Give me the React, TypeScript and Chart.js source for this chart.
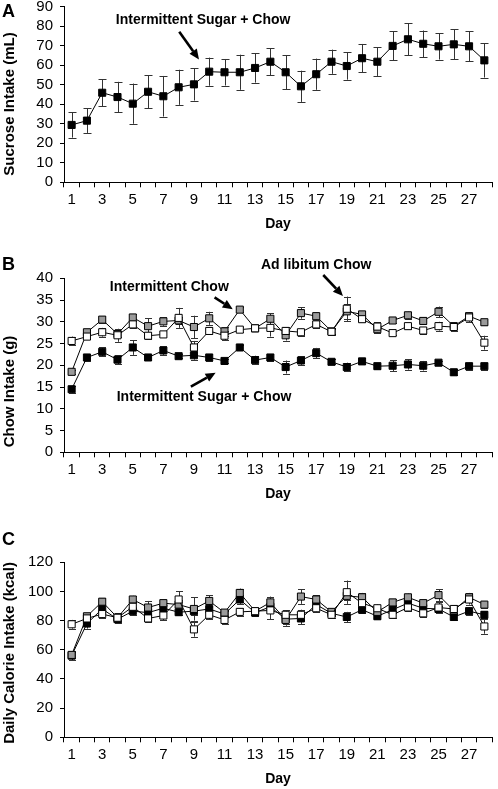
import React, { useEffect, useRef } from "react";
import { Chart, registerables } from "chart.js";

Chart.register(...registerables);

// ---------- data ----------
const days = ["1", "2", "3", "4", "5", "6", "7", "8", "9", "10", "11", "12", "13", "14", "15", "16", "17", "18", "19", "20", "21", "22", "23", "24", "25", "26", "27", "28"];

// Panel A: sucrose intake (mL), intermittent sugar + chow
const sucrose = [29.4, 31.6, 45.9, 43.7, 40.3, 46.4, 44.1, 48.7, 50.2, 56.7, 56.4, 56.4, 58.6, 61.8, 56.4, 49.2, 55.4, 61.8, 59.6, 63.6, 61.8, 69.9, 73.3, 71.0, 69.7, 70.7, 69.7, 62.5];
const sucroseErr = [6.5, 6.3, 7.0, 7.8, 10.3, 8.5, 10.4, 9.0, 8.3, 7.2, 6.8, 9.0, 7.5, 6.8, 8.6, 8.0, 8.0, 6.2, 7.0, 7.3, 7.3, 7.4, 8.2, 6.8, 6.8, 7.7, 7.6, 8.8];

// Panel B: chow intake (g)
const chowSugar = [14.5, 21.8, 23.1, 21.3, 24.1, 21.8, 23.4, 22.1, 22.3, 21.8, 21.0, 24.1, 21.2, 21.8, 19.6, 21.1, 22.8, 20.8, 19.6, 20.9, 19.8, 19.9, 20.2, 19.9, 20.6, 18.4, 19.8, 19.8];
const chowSugarErr = [0.8, 0.8, 1.0, 1.0, 1.7, 0.6, 1.0, 0.5, 1.0, 0.7, 0.5, 0.5, 1.0, 0.7, 1.5, 1.0, 1.2, 0.6, 1.0, 0.7, 0.6, 1.3, 1.2, 1.1, 0.5, 0.7, 0.8, 0.8];
const chowInt = [18.5, 27.6, 30.5, 27.2, 31.0, 29.0, 30.1, 30.3, 28.8, 30.8, 27.8, 32.8, 28.5, 30.7, 26.9, 32.0, 31.3, 27.8, 32.4, 31.7, 28.3, 30.3, 31.5, 30.2, 32.3, 29.0, 31.3, 29.9];
const chowIntErr = [0.5, 0.5, 0.8, 0.8, 0.8, 1.8, 1.0, 0.8, 2.6, 1.5, 1.0, 0.6, 0.6, 1.3, 1.2, 1.3, 0.8, 0.6, 1.8, 0.7, 0.8, 0.6, 0.8, 0.8, 1.2, 0.7, 0.8, 0.6];
const chowAdlib = [25.6, 26.6, 27.6, 26.9, 29.4, 26.8, 27.1, 30.9, 24.1, 27.9, 26.8, 28.2, 28.5, 28.6, 27.9, 27.6, 29.4, 27.7, 33.0, 30.6, 28.9, 27.4, 29.0, 28.0, 29.0, 28.8, 31.0, 25.2];
const chowAdlibErr = [1.0, 0.5, 1.0, 1.5, 0.8, 0.8, 0.5, 2.3, 1.5, 0.8, 1.0, 0.6, 0.6, 2.0, 0.8, 0.8, 0.8, 0.8, 2.8, 0.6, 1.0, 0.5, 0.6, 0.8, 1.0, 1.0, 1.0, 1.6];

// Panel C: daily calorie intake (kcal)
const calSugar = [56.0, 78.0, 88.0, 81.0, 86.5, 85.5, 88.5, 85.8, 86.5, 88.0, 84.5, 94.5, 85.5, 89.5, 81.0, 81.5, 91.0, 85.0, 82.5, 87.5, 83.0, 87.5, 92.0, 88.5, 88.0, 82.5, 86.5, 84.0];
const calSugarErr = [3, 3.5, 2.5, 2.5, 2.5, 2, 2, 2, 2.5, 2, 2, 3, 2, 2, 3.5, 4, 3, 2, 3.5, 2, 2, 2.5, 2.5, 2.5, 2, 2, 2.5, 2.5];
const calInt = [56.5, 83.0, 93.0, 82.0, 94.5, 89.0, 92.0, 91.0, 88.0, 93.5, 85.5, 99.0, 86.5, 92.5, 80.5, 96.5, 94.5, 86.0, 97.0, 96.0, 86.0, 92.5, 96.0, 92.0, 97.5, 87.0, 96.0, 91.0];
const calIntErr = [2, 2, 2.5, 2.5, 2.5, 4.5, 2, 3, 8, 4, 2, 3, 2, 4, 4, 5, 3, 2, 3, 3, 2.5, 2, 2.5, 2, 4, 2, 3, 2];
const calAdlib = [77.5, 81.5, 84.5, 82.0, 89.5, 81.5, 83.5, 94.5, 74.0, 84.0, 80.5, 86.0, 86.5, 87.0, 84.0, 84.0, 88.5, 84.0, 99.5, 92.0, 88.5, 84.0, 89.0, 85.0, 89.0, 88.0, 94.5, 76.0];
const calAdlibErr = [3, 3, 3, 3, 3, 2.5, 3, 5.5, 5, 3, 2.5, 2.5, 2.5, 6, 3, 3.5, 2.5, 2.5, 8, 3, 2.5, 2.5, 2.5, 2.5, 3.5, 2.5, 3.5, 5];

const groupSugar = "Intermittent Sugar + Chow";
const groupInt = "Intermittent Chow";
const groupAdlib = "Ad libitum Chow";

// ---------- styling / layout ----------
const FONT = "'Liberation Sans', Arial, Helvetica, sans-serif";
const PAGE_W = 498;
const PLOT_LEFT = 64;
const PLOT_RIGHT = 495;

type Series = { label: string; data: number[]; err: number[]; fill: string };
// annotation coordinates are in data space: [day index (0 = day 1), value]
type Ann = { text: string; at: [number, number]; from: [number, number]; to: [number, number] };
type Panel = {
  letter: string;
  yTitle: string;
  yMin: number;
  yMax: number;
  yStep: number;
  series: Series[];
  anns: Ann[];
  top: number;
  height: number;
  chartTop: number;
  chartBottom: number;
  yTitleCenter: number;
  letterBaseline: number;
  cap: number;
};

const panels: Panel[] = [
  {
    letter: "A",
    yTitle: "Sucrose Intake (mL)",
    yMin: 0, yMax: 90, yStep: 10,
    series: [{ label: groupSugar, data: sucrose, err: sucroseErr, fill: "#000000" }],
    anns: [{ text: groupSugar, at: [8.6, 82.9], from: [7.04, 77.2], to: [8.33, 63.0] }],
    top: -20, height: 270, chartTop: 6.7, chartBottom: 182.3,
    yTitleCenter: 104, letterBaseline: 17, cap: 4,
  },
  {
    letter: "B",
    yTitle: "Chow Intake (g)",
    yMin: 0, yMax: 40, yStep: 5,
    series: [
      { label: groupAdlib, data: chowAdlib, err: chowAdlibErr, fill: "#ffffff" },
      { label: groupInt, data: chowInt, err: chowIntErr, fill: "#9a9a9a" },
      { label: groupSugar, data: chowSugar, err: chowSugarErr, fill: "#000000" },
    ],
    anns: [
      { text: groupInt, at: [6.39, 38.07], from: [9.35, 35.6], to: [10.54, 32.9] },
      { text: groupAdlib, at: [16.0, 43.1], from: [16.46, 40.76], to: [17.75, 35.93] },
      { text: groupSugar, at: [8.66, 12.6], from: [7.8, 15.08], to: [9.42, 18.3] },
    ],
    top: 250, height: 270, chartTop: 278.3, chartBottom: 452.3,
    yTitleCenter: 391.5, letterBaseline: 270, cap: 3.5,
  },
  {
    letter: "C",
    yTitle: "Daily Calorie Intake (kcal)",
    yMin: 0, yMax: 120, yStep: 20,
    series: [
      { label: groupAdlib, data: calAdlib, err: calAdlibErr, fill: "#ffffff" },
      { label: groupInt, data: calInt, err: calIntErr, fill: "#9a9a9a" },
      { label: groupSugar, data: calSugar, err: calSugarErr, fill: "#000000" },
    ],
    anns: [],
    top: 520, height: 269, chartTop: 562.3, chartBottom: 737.3,
    yTitleCenter: 653, letterBaseline: 545, cap: 3.5,
  },
];

function drawArrow(ctx: CanvasRenderingContext2D, x1: number, y1: number, x2: number, y2: number) {
  const ang = Math.atan2(y2 - y1, x2 - x1);
  const headLen = 10;
  const headHalf = 4.5;
  const bx = x2 - headLen * Math.cos(ang);
  const by = y2 - headLen * Math.sin(ang);
  ctx.save();
  ctx.strokeStyle = "#000";
  ctx.fillStyle = "#000";
  ctx.lineWidth = 2.6;
  ctx.beginPath();
  ctx.moveTo(x1, y1);
  ctx.lineTo(bx, by);
  ctx.stroke();
  ctx.beginPath();
  ctx.moveTo(x2, y2);
  ctx.lineTo(bx + headHalf * Math.sin(ang), by - headHalf * Math.cos(ang));
  ctx.lineTo(bx - headHalf * Math.sin(ang), by + headHalf * Math.cos(ang));
  ctx.closePath();
  ctx.fill();
  ctx.restore();
}

function PanelChart({ p }: { p: Panel }) {
  const ref = useRef<HTMLCanvasElement | null>(null);
  useEffect(() => {
    if (!ref.current) return;
    const plugin = {
      id: "panelExtras",
      beforeDatasetsDraw(chart: any) {
        const ctx: CanvasRenderingContext2D = chart.ctx;
        const ys = chart.scales.y;
        ctx.save();
        ctx.strokeStyle = "#333";
        ctx.lineWidth = 1;
        chart.data.datasets.forEach((ds: any, di: number) => {
          const meta = chart.getDatasetMeta(di);
          ds.data.forEach((v: number, i: number) => {
            const e = ds.errors[i];
            const pt = meta.data[i];
            const x = Math.round(pt.x) + 0.5;
            const yt = ys.getPixelForValue(v + e);
            const yb = ys.getPixelForValue(v - e);
            ctx.beginPath();
            ctx.moveTo(x, yt);
            ctx.lineTo(x, yb);
            ctx.moveTo(x - p.cap, Math.round(yt) + 0.5);
            ctx.lineTo(x + p.cap, Math.round(yt) + 0.5);
            ctx.moveTo(x - p.cap, Math.round(yb) + 0.5);
            ctx.lineTo(x + p.cap, Math.round(yb) + 0.5);
            ctx.stroke();
          });
        });
        ctx.restore();
      },
      afterDraw(chart: any) {
        const ctx: CanvasRenderingContext2D = chart.ctx;
        const xs = chart.scales.x;
        const ys = chart.scales.y;
        const area = chart.chartArea;
        ctx.save();
        ctx.fillStyle = "#000";
        // panel letter
        ctx.font = `bold 18px ${FONT}`;
        ctx.textAlign = "left";
        ctx.textBaseline = "alphabetic";
        ctx.fillText(p.letter, 2, p.letterBaseline - p.top);
        // x title
        ctx.font = `bold 14px ${FONT}`;
        ctx.textAlign = "center";
        ctx.fillText("Day", (area.left + area.right) / 2, area.bottom + 46);
        // y title
        ctx.save();
        ctx.translate(9.5, p.yTitleCenter - p.top);
        ctx.rotate(-Math.PI / 2);
        ctx.font = `bold 15px ${FONT}`;
        ctx.textAlign = "center";
        ctx.textBaseline = "middle";
        ctx.fillText(p.yTitle, 0, 0);
        ctx.restore();
        // annotations
        p.anns.forEach((a) => {
          ctx.font = `bold 14px ${FONT}`;
          ctx.textAlign = "center";
          ctx.textBaseline = "middle";
          ctx.fillText(a.text, xs.getPixelForValue(a.at[0]), ys.getPixelForValue(a.at[1]));
          drawArrow(
            ctx,
            xs.getPixelForValue(a.from[0]), ys.getPixelForValue(a.from[1]),
            xs.getPixelForValue(a.to[0]), ys.getPixelForValue(a.to[1])
          );
        });
        ctx.restore();
      },
    };

    const chart = new Chart(ref.current, {
      type: "line",
      data: {
        labels: days,
        datasets: p.series.map((s) => ({
          label: s.label,
          data: s.data,
          errors: s.err,
          borderColor: "#000",
          borderWidth: 1,
          backgroundColor: s.fill,
          pointStyle: "rect",
          pointRadius: 5,
          pointBorderWidth: 1,
          pointBorderColor: "#000",
          pointBackgroundColor: s.fill,
          tension: 0,
          fill: false,
        })) as any,
      },
      options: {
        animation: false,
        responsive: false,
        maintainAspectRatio: false,
        events: [],
        layout: { padding: { top: p.chartTop - p.top, left: 0, right: PAGE_W - PLOT_RIGHT, bottom: 0 } },
        plugins: { legend: { display: false }, tooltip: { enabled: false } },
        scales: {
          x: {
            type: "category",
            offset: true,
            grid: { offset: true, drawOnChartArea: false, drawTicks: true, tickLength: 5, color: "#000", lineWidth: 1 },
            border: { display: true, color: "#000", width: 1 },
            ticks: {
              autoSkip: false,
              maxRotation: 0,
              minRotation: 0,
              padding: 4,
              color: "#000",
              font: { family: FONT, size: 15 },
              callback: (_v: any, i: number) => (i % 2 === 0 ? days[i] : ""),
            },
            afterFit: (s: any) => {
              s.height = p.top + p.height - p.chartBottom;
            },
          },
          y: {
            min: p.yMin,
            max: p.yMax,
            grid: { drawOnChartArea: false, drawTicks: true, tickLength: 4, color: "#000", lineWidth: 1 },
            border: { display: true, color: "#000", width: 1 },
            ticks: { stepSize: p.yStep, autoSkip: false, padding: 7, color: "#000", font: { family: FONT, size: 15 } },
            afterFit: (s: any) => {
              s.width = PLOT_LEFT;
            },
          },
        },
      } as any,
      plugins: [plugin],
    });
    return () => chart.destroy();
  }, [p]);

  return (
    <canvas
      ref={ref}
      width={PAGE_W}
      height={p.height}
      style={{ position: "absolute", left: 0, top: p.top, width: PAGE_W, height: p.height }}
    />
  );
}

export default function App() {
  return (
    <div style={{ position: "fixed", left: 0, top: 0, width: PAGE_W, height: 789, background: "#fff", overflow: "hidden" }}>
      {panels.map((p) => (
        <PanelChart key={p.letter} p={p} />
      ))}
    </div>
  );
}
